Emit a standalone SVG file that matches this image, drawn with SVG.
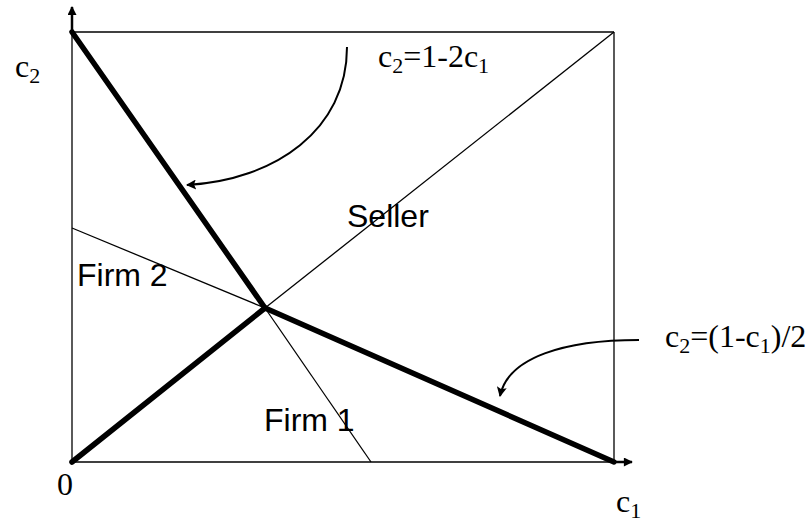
<svg xmlns="http://www.w3.org/2000/svg" width="811" height="526" viewBox="0 0 811 526">
<defs>
<marker id="ah" viewBox="0 0 10 10" refX="9" refY="5" markerWidth="11" markerHeight="10" markerUnits="userSpaceOnUse" orient="auto"><path d="M0,0 L10,5 L0,10 L2,5 Z" fill="#000"/></marker>
<marker id="axh" viewBox="0 0 10 10" refX="9" refY="5" markerWidth="10" markerHeight="9" markerUnits="userSpaceOnUse" orient="auto"><path d="M0,0 L10,5 L0,10 Z" fill="#000"/></marker>
</defs>
<style>
.thin{stroke:#000;stroke-width:1.3;fill:none}
.thick{stroke:#000;stroke-width:5.5;fill:none;stroke-linecap:round}
.curve{stroke:#000;stroke-width:2;fill:none}
.tm{font-family:"Liberation Serif",serif;font-size:32px;fill:#000}
.sub{font-size:22px}
.ar{font-family:"Liberation Sans",sans-serif;font-size:32px;fill:#000}
</style>
<rect width="811" height="526" fill="#fff"/>
<g id="connectors">
<line class="thin" x1="72" y1="462" x2="72" y2="32"/>
<line x1="72" y1="32" x2="72" y2="7" stroke="#000" stroke-width="2.5" marker-end="url(#axh)"/>
<line class="thin" x1="72" y1="462" x2="614" y2="462"/>
<line x1="614" y1="462" x2="632" y2="462" stroke="#000" stroke-width="2.5" marker-end="url(#axh)"/>
<line class="thin" x1="72" y1="32" x2="614" y2="32"/>
<line class="thin" x1="614" y1="32" x2="614" y2="462"/>
<line class="thin" x1="265" y1="308" x2="614" y2="32"/>
<line class="thin" x1="72" y1="228" x2="265" y2="308"/>
<line class="thin" x1="265" y1="308" x2="371" y2="462"/>
<line class="thick" x1="72" y1="32" x2="265" y2="308"/>
<line class="thick" x1="265" y1="308" x2="614" y2="462"/>
<line class="thick" x1="72" y1="462" x2="265" y2="308"/>
<path class="curve" d="M347,47 C347,130 275,180 187,185" marker-end="url(#ah)"/>
<path class="curve" d="M639,340 C565,340 508,357 500,396" marker-end="url(#ah)"/>
</g>
<g id="labels">
<text class="tm" x="15" y="77">c<tspan class="sub" dy="6">2</tspan></text>
<text class="tm" x="57" y="495">0</text>
<text class="tm" x="616" y="512">c<tspan class="sub" dy="6">1</tspan></text>
<text class="tm" x="378" y="67">c<tspan class="sub" dy="6">2</tspan><tspan dy="-6">=1-2c</tspan><tspan class="sub" dy="6">1</tspan></text>
<text class="tm" x="665" y="347">c<tspan class="sub" dy="6">2</tspan><tspan dy="-6">=(1-c</tspan><tspan class="sub" dy="6">1</tspan><tspan dy="-6">)/2</tspan></text>
<text class="ar" x="347" y="227">Seller</text>
<text class="ar" x="77" y="286">Firm 2</text>
<text class="ar" x="264" y="431">Firm 1</text>
</g>
</svg>
